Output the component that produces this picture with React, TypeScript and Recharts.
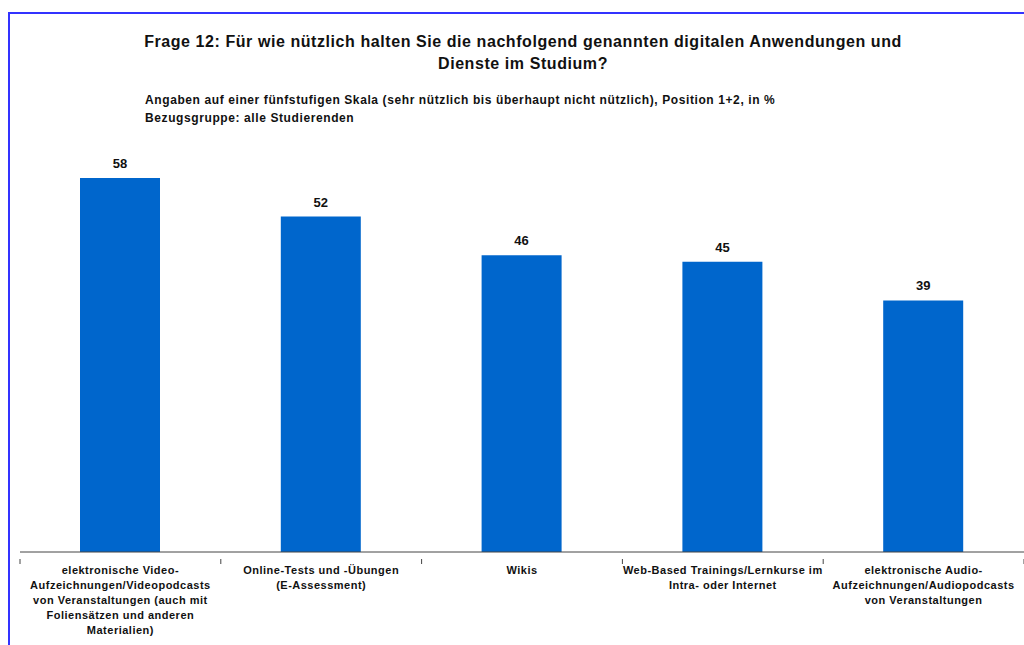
import { BarChart, Bar, XAxis, YAxis, LabelList } from 'recharts'

const categories = [
  'elektronische Video-\nAufzeichnungen/Videopodcasts\nvon Veranstaltungen (auch mit\nFoliensätzen und anderen\nMaterialien)',
  'Online-Tests und -Übungen\n(E-Assessment)',
  'Wikis',
  'Web-Based Trainings/Lernkurse im\nIntra- oder Internet',
  'elektronische Audio-\nAufzeichnungen/Audiopodcasts\nvon Veranstaltungen',
]
const values = [58, 52, 46, 45, 39]

const data = categories.map((name, i) => ({ name, value: values[i] }))

const FONT = '"Liberation Sans", Arial, sans-serif'

function CategoryTick({ x, y, payload, index, visibleTicksCount }: any) {
  const lines = String(payload.value).split('\n')
  const half = 100.4
  const isLast = index === (visibleTicksCount ?? categories.length) - 1
  return (
    <g>
      <line x1={x - half} y1={y - 1} x2={x - half} y2={y + 4} stroke="#444" />
      {isLast && <line x1={x + half} y1={y - 1} x2={x + half} y2={y + 4} stroke="#444" />}
      <text x={x} y={y + 14} textAnchor="middle" fontFamily={FONT} fontSize={11} fontWeight={700} letterSpacing={0.5} fill="#111">
        {lines.map((l, i) => (
          <tspan key={i} x={x} dy={i === 0 ? 0 : 15}>{l}</tspan>
        ))}
      </text>
    </g>
  )
}

export default function App() {
  return (
    <div style={{ position: 'fixed', left: 0, top: 0, width: 1024, height: 645, overflow: 'hidden', background: '#fff', fontFamily: FONT }}>
      <div style={{ position: 'absolute', left: 8, top: 12, width: 1100, height: 700, borderTop: '2px solid #3333ff', borderLeft: '2px solid #3333ff' }} />
      <div style={{ position: 'absolute', left: 0, width: 1046, top: 31, textAlign: 'center', fontSize: 16, fontWeight: 700, letterSpacing: 0.57, lineHeight: '22px', color: '#111' }}>
        Frage 12: Für wie nützlich halten Sie die nachfolgend genannten digitalen Anwendungen und<br />
        Dienste im Studium?
      </div>
      <div style={{ position: 'absolute', left: 145, top: 91, fontSize: 12, fontWeight: 700, letterSpacing: 0.6, lineHeight: '18px', color: '#111' }}>
        Angaben auf einer fünfstufigen Skala (sehr nützlich bis überhaupt nicht nützlich), Position 1+2, in %<br />
        Bezugsgruppe: alle Studierenden
      </div>
      <div style={{ position: 'absolute', left: 0, top: 0 }}>
        <BarChart width={1024} height={645} data={data} margin={{ top: 165, right: 0, bottom: 0, left: 20 }}>
          <YAxis hide domain={[0, 60]} />
          <XAxis
            dataKey="name"
            interval={0}
            height={93}
            axisLine={{ stroke: '#444' }}
            tickLine={false}
            tick={<CategoryTick />}
          />
          <Bar dataKey="value" fill="#0066CC" barSize={80} isAnimationActive={false}>
            <LabelList dataKey="value" position="top" offset={10} fontFamily={FONT} fontSize={13} fontWeight={700} fill="#111" />
          </Bar>
        </BarChart>
      </div>
    </div>
  )
}
